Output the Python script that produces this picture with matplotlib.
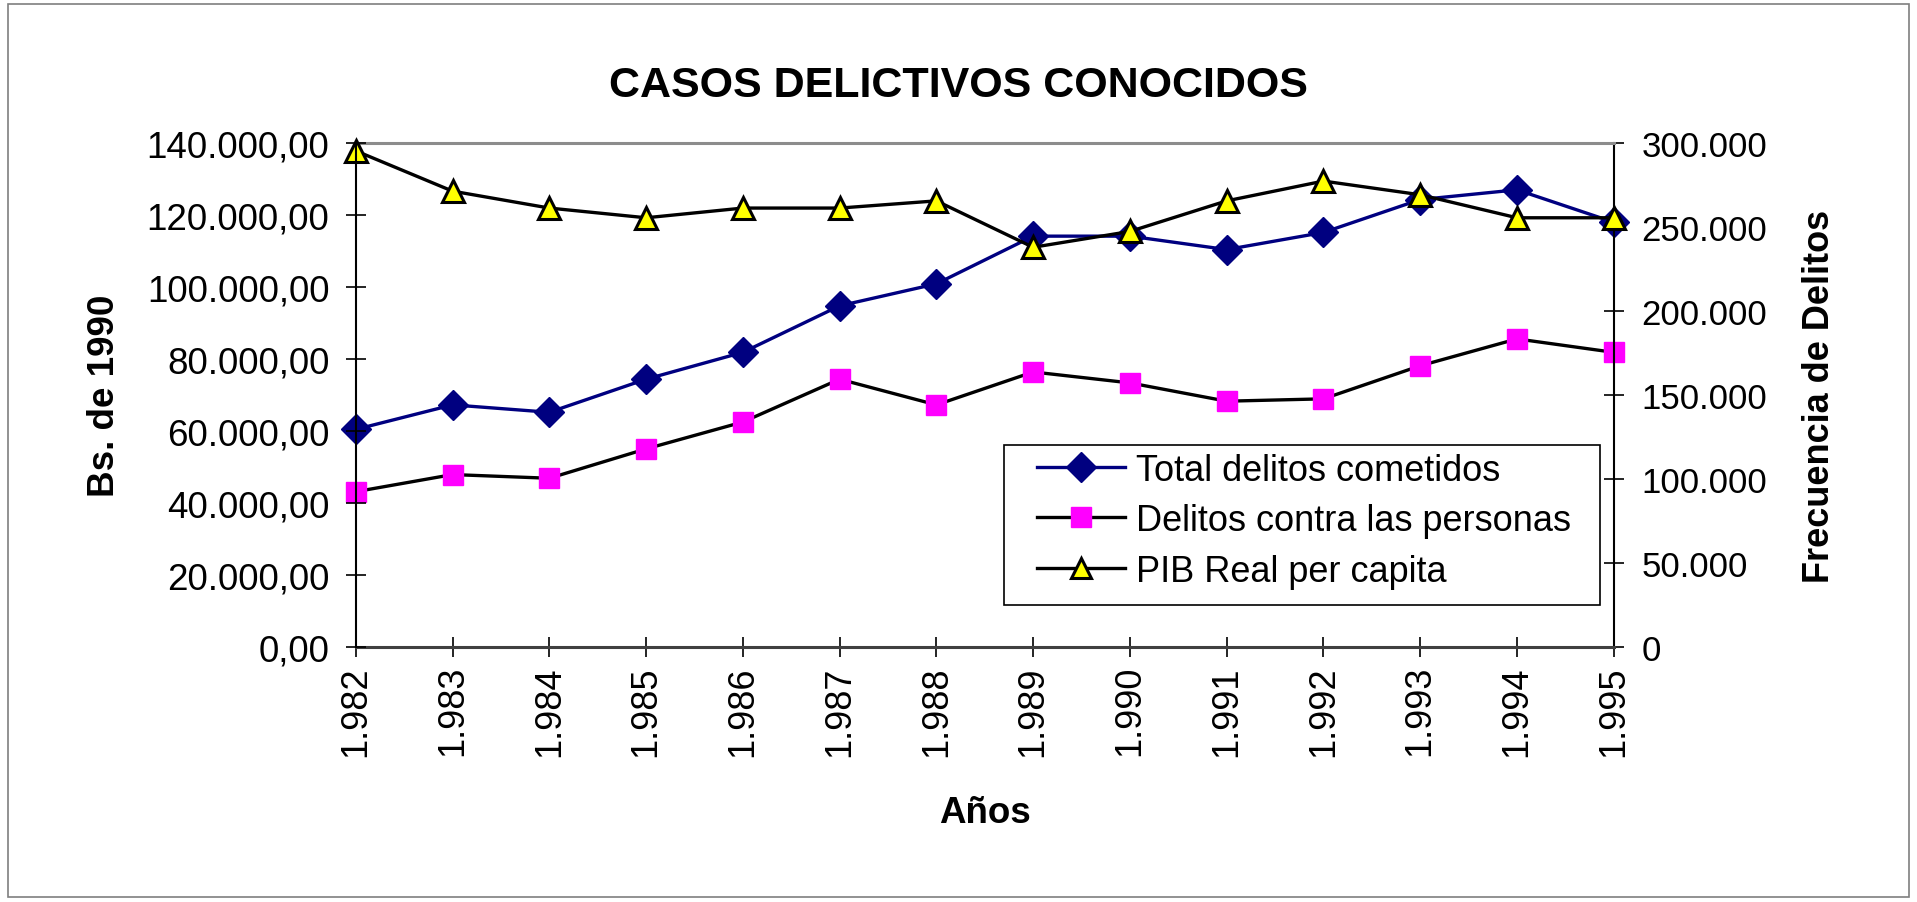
import matplotlib
matplotlib.use("Agg")
import matplotlib.pyplot as plt
from matplotlib.patches import Rectangle
from matplotlib.ticker import FuncFormatter, MultipleLocator

plt.rcParams['font.family'] = ['Liberation Sans', 'DejaVu Sans']

years = ["1.982", "1.983", "1.984", "1.985", "1.986", "1.987", "1.988",
         "1.989", "1.990", "1.991", "1.992", "1.993", "1.994", "1.995"]
total_delitos = [129600, 144200, 139800, 159500, 175500, 203200, 216300,
                 244700, 244700, 236700, 246900, 266500, 272300, 253000]
delitos_personas = [92500, 102700, 100500, 118000, 134000, 159500, 144200,
                    163800, 157300, 146400, 147800, 167500, 183500, 175500]
pib_per_capita = [137900, 126700, 122000, 119300, 122000, 122000, 124000,
                  111100, 115500, 124000, 129500, 125700, 119300, 119300]

title = "CASOS DELICTIVOS CONOCIDOS"
ylabel_left = "Bs. de 1990"
ylabel_right = "Frecuencia de Delitos"
xlabel = "Años"
labels = ["Total delitos cometidos", "Delitos contra las personas", "PIB Real per capita"]

fig = plt.figure(figsize=(19.17, 9.03), dpi=100)
fig.patch.set_facecolor("white")
fig.add_artist(Rectangle((0.004, 0.005), 0.992, 0.989, transform=fig.transFigure,
                         fill=False, edgecolor="#7f7f7f", linewidth=1.2))

rect = [0.1856, 0.2824, 0.6562, 0.5578]
ax2 = fig.add_axes(rect)                 # right scale (crimes)
ax = fig.add_axes(rect, sharex=ax2)      # left scale (PIB)
ax.patch.set_visible(False)
ax.set_zorder(ax2.get_zorder() + 1)

x = list(range(len(years)))

l1, = ax2.plot(x, total_delitos, color="#000080", lw=2.4, marker="D", ms=15,
               markerfacecolor="#000080", markeredgecolor="#000080", clip_on=False)
l2, = ax2.plot(x, delitos_personas, color="black", lw=2.4, marker="s", ms=15,
               markerfacecolor="#ff00ff", markeredgecolor="#ff00ff", clip_on=False)
l3, = ax.plot(x, pib_per_capita, color="black", lw=2.4, marker="^", ms=16,
              markerfacecolor="#ffff00", markeredgecolor="black", markeredgewidth=2.2,
              clip_on=False)

ax.set_xlim(0, len(years) - 1)
ax.set_ylim(0, 140000)
ax2.set_ylim(0, 300000)

ax.yaxis.set_label_position("left")
ax.yaxis.tick_left()
ax.yaxis.set_major_locator(MultipleLocator(20000))
ax.yaxis.set_major_formatter(FuncFormatter(
    lambda v, p: f"{v:,.2f}".replace(",", "X").replace(".", ",").replace("X", ".")))
ax2.yaxis.set_label_position("right")
ax2.yaxis.tick_right()
ax2.yaxis.set_major_locator(MultipleLocator(50000))
ax2.yaxis.set_major_formatter(FuncFormatter(
    lambda v, p: f"{v:,.0f}".replace(",", ".")))

ax2.set_xticks(x)
ax2.set_xticklabels(years, rotation=90)
ax.tick_params(axis="x", labelbottom=False, bottom=False)

for a in (ax, ax2):
    for s in a.spines.values():
        s.set_visible(False)
ax.spines["left"].set_visible(True)
ax.spines["left"].set_linewidth(1.5)
ax2.spines["right"].set_visible(True)
ax2.spines["right"].set_linewidth(1.5)
ax2.spines["bottom"].set_visible(True)
ax2.spines["bottom"].set_linewidth(2.2)
ax2.spines["bottom"].set_color("#404040")
ax2.spines["top"].set_visible(True)
ax2.spines["top"].set_linewidth(2.2)
ax2.spines["top"].set_color("#8c8c8c")

ax.tick_params(axis="y", direction="inout", length=14, width=1.2, labelsize=26.5, pad=12)
ax2.tick_params(axis="y", direction="inout", length=14, width=1.2, labelsize=25, pad=13)
ax2.tick_params(axis="x", direction="inout", length=14, width=1.2, labelsize=26, pad=6)

ax.set_ylabel(ylabel_left, fontsize=26.5, fontweight="bold", labelpad=18)
ax2.set_ylabel(ylabel_right, fontsize=26, fontweight="bold", labelpad=25, rotation=90)
ax2.set_xlabel(xlabel, fontsize=26.5, fontweight="bold", labelpad=28)

fig.text(0.5, 0.905, title, ha="center", va="center", fontsize=31, fontweight="bold")

# legend box drawn separately for Excel-like padding
ax.add_patch(Rectangle((0.515, 0.0825), 0.474, 0.318, transform=ax.transAxes,
                       facecolor="white", edgecolor="black", linewidth=1.2,
                       zorder=5, clip_on=False))
leg = ax.legend([l1, l2, l3], labels, loc="upper left", bbox_to_anchor=(0.5413, 0.386),
                borderaxespad=0, borderpad=0, fontsize=26, frameon=False,
                handlelength=2.44, handletextpad=0.3, labelspacing=0.43)
leg.set_zorder(6)
for h in leg.legend_handles:
    h.set_markersize(15)

fig.savefig("out.png", dpi=100)
